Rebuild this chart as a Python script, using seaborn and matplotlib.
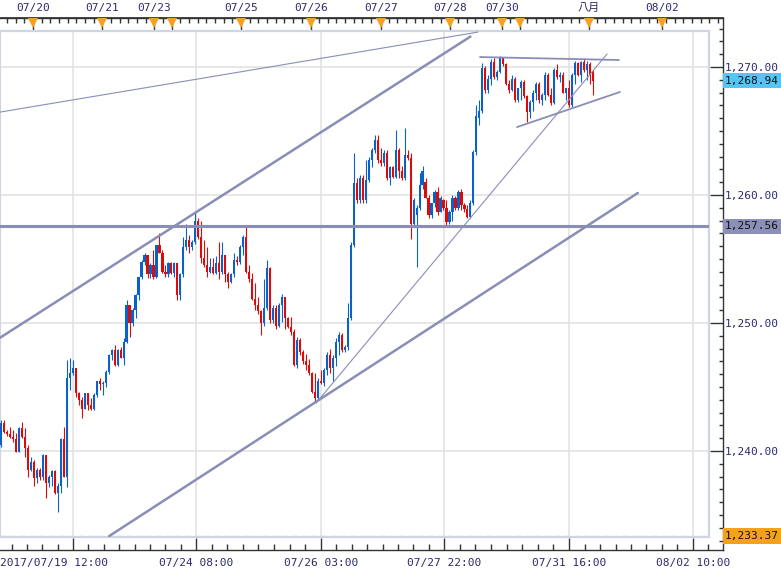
import matplotlib
matplotlib.use("Agg")
import numpy as np
import pandas as pd
import matplotlib.pyplot as plt
import matplotlib.transforms as mtransforms
from matplotlib.patches import Rectangle
from matplotlib.ticker import FixedLocator, MultipleLocator, FuncFormatter, NullFormatter
import seaborn as sns

# ---------------- data (hourly OHLC, gold) ----------------
opens = [1240.5,1242.2,1241.5,1241.3,1241.1,1240.9,1239.9,1241.8,1241.1,1240.2,
         1238.5,1239.1,1237.9,1238.5,1238.0,1239.7,1237.5,1238.0,1238.4,1236.7,
         1237.3,1240.9,1238.0,1245.7,1246.1,1246.5,1244.5,1244.0,1243.3,1244.5,
         1243.6,1243.3,1244.4,1245.5,1245.2,1245.3,1246.2,1247.5,1247.9,1246.7,
         1247.9,1247.3,1248.5,1251.4,1250.0,1251.0,1252.2,1253.6,1254.8,1255.3,
         1253.8,1254.5,1253.6,1256.1,1255.5,1254.0,1253.8,1254.7,1253.9,1254.7,
         1252.2,1253.8,1255.9,1256.5,1255.9,1256.3,1258.0,1256.7,1255.1,1254.5,
         1254.0,1254.4,1253.9,1254.7,1254.0,1255.3,1253.8,1253.2,1253.8,1254.9,
         1254.8,1255.9,1256.7,1254.0,1253.4,1251.9,1251.4,1250.9,1250.0,1251.2,
         1254.3,1250.2,1251.2,1249.8,1251.4,1252.0,1250.4,1249.7,1249.3,1246.7,
         1248.7,1247.7,1247.0,1246.7,1246.1,1244.6,1244.1,1245.5,1245.3,1246.3,
         1247.5,1246.5,1247.3,1248.5,1249.1,1247.9,1248.1,1250.4,1256.1,1260.9,
         1259.6,1261.3,1259.6,1261.2,1262.7,1263.5,1264.3,1262.7,1262.5,1263.3,
         1261.3,1262.2,1261.4,1263.5,1261.9,1261.3,1263.1,1262.9,1257.7,1258.4,
         1259.0,1260.8,1261.0,1259.8,1258.4,1259.4,1260.2,1258.7,1259.6,1259.0,
         1257.9,1258.7,1259.8,1259.0,1260.2,1259.2,1258.9,1258.3,1259.4,1263.4,
         1266.0,1266.6,1269.9,1268.2,1269.1,1270.4,1269.2,1269.6,1270.7,1270.2,
         1268.7,1268.2,1269.1,1267.4,1268.4,1268.8,1267.7,1266.5,1267.3,1268.0,
         1268.7,1267.4,1267.8,1269.4,1267.8,1267.2,1269.8,1269.2,1269.4,1268.0,
         1268.4,1267.0,1269.4,1270.3,1269.4,1270.4,1269.8,1270.2,1269.6]
closes = [1242.2,1241.5,1241.3,1241.1,1240.9,1239.9,1241.8,1241.1,1240.2,1238.5,
          1239.1,1237.9,1238.5,1238.0,1239.7,1237.5,1238.0,1238.4,1236.7,1237.3,
          1240.9,1238.0,1245.7,1246.1,1246.5,1244.5,1244.0,1243.3,1244.5,1243.6,
          1243.3,1244.4,1245.5,1245.2,1245.3,1246.2,1247.5,1247.9,1246.7,1247.9,
          1247.3,1248.5,1251.4,1250.0,1251.0,1252.2,1253.6,1254.8,1255.3,1253.8,
          1254.5,1253.6,1256.1,1255.5,1254.0,1253.8,1254.7,1253.9,1254.7,1252.2,
          1253.8,1255.9,1256.5,1255.9,1256.3,1258.0,1256.7,1255.1,1254.5,1254.0,
          1254.4,1253.9,1254.7,1254.0,1255.3,1253.8,1253.2,1253.8,1254.9,1254.8,
          1255.9,1256.7,1254.0,1253.4,1251.9,1251.4,1250.9,1250.0,1251.2,1254.3,
          1250.2,1251.2,1249.8,1251.4,1252.0,1250.4,1249.7,1249.3,1246.7,1248.7,
          1247.7,1247.0,1246.7,1246.1,1244.6,1244.1,1245.5,1245.3,1246.3,1247.5,
          1246.5,1247.3,1248.5,1249.1,1247.9,1248.1,1250.4,1256.1,1260.9,1259.6,
          1261.3,1259.6,1261.2,1262.7,1263.5,1264.3,1262.7,1262.5,1263.3,1261.3,
          1262.2,1261.4,1263.5,1261.9,1261.3,1263.1,1262.9,1257.7,1259.6,1259.0,
          1260.8,1261.9,1259.8,1258.4,1259.4,1260.2,1258.7,1259.8,1259.0,1257.9,
          1258.7,1259.8,1259.0,1260.2,1259.2,1258.9,1258.3,1259.4,1263.4,1266.2,
          1266.6,1269.9,1268.2,1269.1,1270.4,1269.2,1269.6,1270.7,1270.2,1268.7,
          1268.2,1269.1,1267.4,1268.4,1268.8,1267.7,1266.5,1267.3,1268.0,1268.7,
          1267.4,1267.8,1269.4,1267.8,1267.2,1269.8,1269.2,1269.4,1268.0,1268.4,
          1267.0,1269.4,1270.3,1269.4,1270.4,1269.8,1270.2,1269.4,1268.94]
highs = [1242.4,1242.4,1241.6,1241.9,1241.6,1241.4,1241.9,1242.3,1241.8,1240.5,
         1239.5,1239.3,1238.7,1238.7,1239.8,1239.7,1238.1,1238.5,1238.5,1237.5,
         1241.0,1241.9,1247.1,1247.3,1247.1,1246.5,1244.6,1244.2,1244.5,1244.5,
         1244.1,1244.5,1245.5,1245.7,1245.5,1246.3,1247.6,1248.0,1248.3,1248.0,
         1248.1,1248.8,1251.8,1251.4,1251.2,1252.3,1253.6,1254.9,1255.5,1255.3,
         1254.7,1255.7,1256.1,1257.0,1255.7,1254.5,1254.8,1254.8,1254.8,1254.7,
         1253.9,1256.7,1257.7,1256.9,1256.5,1258.6,1258.2,1258.0,1256.5,1255.9,
         1255.1,1255.1,1255.2,1256.3,1256.3,1255.3,1254.0,1253.9,1255.5,1255.2,
         1256.1,1256.9,1257.5,1254.5,1253.9,1253.1,1252.0,1251.0,1253.4,1254.9,
         1254.4,1251.4,1251.4,1251.6,1252.3,1252.0,1250.5,1250.5,1249.5,1248.9,
         1248.8,1247.9,1247.6,1247.2,1246.2,1246.1,1245.7,1246.3,1246.5,1247.7,
         1248.0,1247.5,1248.8,1249.3,1249.2,1248.3,1251.6,1256.3,1263.3,1261.3,
         1261.6,1261.6,1262.7,1263.0,1263.7,1264.7,1264.7,1263.7,1263.5,1263.5,
         1262.3,1262.3,1265.1,1263.7,1262.3,1265.2,1263.5,1263.3,1259.8,1259.2,
         1261.7,1262.3,1261.3,1260.0,1259.4,1260.4,1260.6,1259.9,1259.7,1259.6,
         1258.8,1260.0,1259.9,1260.4,1260.5,1259.4,1259.2,1259.6,1263.5,1267.0,
         1267.4,1270.3,1270.1,1269.4,1270.6,1270.7,1269.8,1270.9,1270.8,1270.3,
         1269.0,1269.4,1269.2,1268.4,1269.0,1269.0,1267.8,1267.4,1268.2,1268.8,
         1268.8,1268.0,1269.6,1269.5,1268.4,1269.9,1270.2,1269.6,1269.6,1268.4,
         1269.0,1269.5,1270.5,1270.4,1270.5,1270.7,1270.5,1270.4,1269.8]
lows = [1240.3,1241.4,1241.2,1241.0,1240.7,1239.9,1239.9,1241.0,1239.5,1238.0,
        1238.4,1237.3,1237.5,1237.7,1237.7,1236.3,1237.2,1237.3,1236.6,1235.2,
        1236.7,1238.0,1237.2,1244.8,1245.9,1244.2,1243.6,1242.6,1243.3,1243.2,
        1243.2,1243.2,1244.2,1244.8,1244.4,1245.0,1246.0,1247.1,1246.6,1246.6,
        1247.3,1246.7,1248.4,1248.9,1249.8,1250.4,1251.8,1253.4,1254.5,1253.5,
        1253.5,1253.4,1253.5,1255.5,1253.9,1253.6,1253.6,1253.8,1253.6,1251.8,
        1251.8,1253.6,1255.7,1255.5,1255.7,1256.2,1256.6,1254.7,1254.4,1253.6,
        1253.9,1253.8,1253.8,1253.4,1253.8,1253.2,1252.7,1253.1,1253.6,1254.5,
        1254.6,1255.3,1253.9,1253.2,1251.8,1251.0,1250.7,1249.1,1249.8,1251.0,
        1250.0,1250.0,1249.5,1249.7,1250.1,1249.5,1249.6,1249.1,1246.6,1246.5,
        1247.5,1246.8,1246.3,1245.9,1244.5,1243.8,1244.0,1245.2,1245.1,1245.9,
        1246.1,1245.5,1246.6,1247.5,1247.7,1247.7,1247.9,1250.2,1255.9,1259.4,
        1259.4,1259.4,1259.4,1261.0,1262.2,1263.3,1262.5,1262.3,1262.3,1261.2,
        1260.8,1261.3,1261.3,1261.3,1261.2,1261.2,1262.7,1256.6,1257.5,1254.4,
        1258.8,1260.5,1259.8,1258.2,1258.2,1259.1,1258.4,1258.7,1258.8,1257.5,
        1257.7,1258.0,1258.8,1258.8,1258.8,1258.7,1258.2,1258.2,1259.2,1263.1,
        1265.5,1266.4,1268.0,1268.0,1268.6,1269.1,1269.0,1269.5,1270.1,1268.6,
        1268.0,1268.1,1267.3,1267.3,1267.4,1267.6,1265.7,1266.0,1266.6,1267.4,
        1267.2,1267.0,1267.4,1267.7,1267.0,1267.1,1269.1,1268.8,1268.0,1267.4,
        1266.9,1266.9,1268.7,1269.3,1268.8,1269.6,1269.0,1268.7,1267.8]

price_ticks = [1240, 1250, 1260, 1270]
last_price = 1268.94
hline_price = 1257.56
low_price = 1233.37

bottom_labels = ["2017/07/19 12:00", "07/24 08:00", "07/26 03:00",
                 "07/27 22:00", "07/31 16:00", "08/02 10:00"]
top_labels = ["07/20", "07/21", "07/23", "", "07/25", "07/26", "07/27",
              "07/28", "07/30", "", "八月", "08/02"]

# drawn trend lines: (bar index, price) end points
upper_channel_x = [-0.3, 157.0];  upper_channel_y = [1248.85, 1272.38]
lower_channel_x = [36.2, 213.0];  lower_channel_y = [1233.35, 1260.16]
thin_top_x = [-0.3, 159.5];       thin_top_y = [1266.48, 1272.73]
thin_trend_x = [105.4, 202.7];    thin_trend_y = [1243.75, 1271.02]
resist_x = [160.2, 206.7];        resist_y = [1270.78, 1270.55]
support_x = [172.6, 207.0];       support_y = [1265.31, 1268.05]

# ---------------- layout (bar positions of axis marks) ----------------
bottom_major_pos = [24.1, 65.2, 107.0, 148.2, 190.0, 231.4]
top_day_pos = [10.7, 33.8, 51.2, 57.2, 80.3, 103.7, 127.1, 150.2, 167.6, 173.6, 196.7, 221.1]

sns.set_theme(style="white")
plt.rcParams['font.family'] = ['DejaVu Sans Mono', 'Noto Sans CJK JP']
TXT = '#2A2A6E'
LINE = '#8A8EB6'
FS = 8.0

W, H = 781, 576
def rect(l, t, r, b):
    return [l / W, 1 - b / H, (r - l) / W, (b - t) / H]

fig = plt.figure(figsize=(W / 100, H / 100), dpi=100)
fig.patch.set_facecolor('white')

# outer frame with axes ticks
ax2 = fig.add_axes(rect(0, 18, 723, 550))
ax2.patch.set_alpha(0)
ax2.set_xlim(-0.334, 241.47)
ax2.set_ylim(1232.27, 1273.83)
for s in ['top', 'right', 'bottom']:
    ax2.spines[s].set_color('#333333'); ax2.spines[s].set_linewidth(1.0)
ax2.spines['left'].set_visible(False)
ax2.yaxis.tick_right()
ax2.yaxis.set_major_locator(FixedLocator(price_ticks))
ax2.yaxis.set_minor_locator(MultipleLocator(1))
ax2.yaxis.set_major_formatter(FuncFormatter(lambda v, p: f"{v:,.2f}"))
ax2.tick_params(axis='y', which='major', direction='in', length=9.5, width=1,
                color='#333333', labelsize=FS, labelcolor=TXT, pad=1.5,
                right=True, left=False, labelright=True, labelleft=False)
ax2.tick_params(axis='y', which='minor', direction='in', length=3, width=1,
                color='#333333', right=True, left=False)
minor_bottom = []
for a, b in zip(bottom_major_pos[:-1], bottom_major_pos[1:]):
    minor_bottom += list(np.linspace(a, b, 9)[1:-1])
step = (bottom_major_pos[1] - bottom_major_pos[0]) / 8
minor_bottom += [bottom_major_pos[0] - step * i for i in range(1, 5)]
minor_bottom += [bottom_major_pos[-1] + step * i for i in range(1, 3)]
ax2.xaxis.set_major_locator(FixedLocator(bottom_major_pos))
ax2.xaxis.set_minor_locator(FixedLocator(minor_bottom))
ax2.xaxis.set_major_formatter(NullFormatter())
ax2.tick_params(axis='x', which='major', direction='in', length=8.6, width=1,
                color='#333333', bottom=True, top=False)
ax2.tick_params(axis='x', which='minor', direction='in', length=4.3, width=1,
                color='#333333', bottom=True, top=False)
tx = ax2.get_xaxis_transform()
for i, (p, lab) in enumerate(zip(bottom_major_pos, bottom_labels)):
    if i == 0:
        ax2.text(0.0, -0.0244, lab, transform=ax2.transAxes, ha='left', va='center',
                 fontsize=FS, color=TXT)
    else:
        ax2.text(p, -0.0244, lab, transform=tx, ha='center', va='center',
                 fontsize=FS, color=TXT, clip_on=False)

# top axis
ax3 = ax2.twiny()
ax3.set_xlim(ax2.get_xlim())
for s in ['left', 'right', 'bottom']:
    ax3.spines[s].set_visible(False)
ax3.spines['top'].set_color('#333333')
top_minor = list(np.arange(top_day_pos[0] - 2.9 * 3, 241, 2.9))
ax3.xaxis.set_major_locator(FixedLocator(top_day_pos))
ax3.xaxis.set_minor_locator(FixedLocator(top_minor))
ax3.xaxis.set_major_formatter(NullFormatter())
ax3.tick_params(axis='x', which='major', direction='in', length=8.6, width=1, color='#333333')
ax3.tick_params(axis='x', which='minor', direction='in', length=3.6, width=1, color='#333333')
ax3.tick_params(axis='y', which='both', left=False, right=False,
                labelleft=False, labelright=False)
tx3 = ax3.get_xaxis_transform()
ax3.plot(top_day_pos, [0.9915] * len(top_day_pos), transform=tx3, linestyle='none',
         marker='v', markersize=7, color='#F5A21A', markeredgewidth=0, clip_on=False, zorder=5)
for p, lab in zip(top_day_pos, top_labels):
    if lab:
        ax3.text(p, 1.0188, lab, transform=tx3, ha='center', va='center',
                 fontsize=FS, color=TXT, clip_on=False)

# inner chart panel
ax = fig.add_axes(rect(0, 30.7, 709, 536.7))
ax.set_xlim(-0.334, 236.8)
ax.set_ylim(1233.30, 1272.84)
ax.set_xticks([]); ax.set_yticks([])
for s in ax.spines.values():
    s.set_color('#CDD5E1'); s.set_linewidth(1.6)
for v in price_ticks:
    ax.axhline(v, color='#E3E3E3', lw=1.2, zorder=1)
for p in bottom_major_pos:
    ax.axvline(p, color='#E3E3E3', lw=1.2, zorder=1)
ax.axhline(low_price, color='#D5D5D5', lw=1.0, ls=(0, (4, 3)), zorder=1)

df = pd.DataFrame({'o': opens, 'h': highs, 'l': lows, 'c': closes})
df['x'] = np.arange(len(df))
up = df['c'] >= df['o']
cols = np.where(up, '#0A62C8', '#DD0A0A')
ax.vlines(df['x'], df['l'], df['h'], colors=cols, lw=0.8, zorder=3)
body_low = np.minimum(df['o'], df['c'])
body_h = np.maximum(np.abs(df['c'] - df['o']), 0.06)
ax.bar(df['x'], body_h, bottom=body_low, width=0.72, color=cols, linewidth=0,
       zorder=4, antialiased=False)

ax.axhline(hline_price, color=LINE, lw=2.2, zorder=5)
for xs, ys, lw in [(upper_channel_x, upper_channel_y, 1.8),
                   (lower_channel_x, lower_channel_y, 1.8),
                   (thin_top_x, thin_top_y, 0.8),
                   (thin_trend_x, thin_trend_y, 0.8),
                   (resist_x, resist_y, 1.3),
                   (support_x, support_y, 1.3)]:
    sns.lineplot(x=xs, y=ys, ax=ax, color=LINE, linewidth=lw, zorder=5, legend=False)
ax.set_xlabel(''); ax.set_ylabel('')
ax.set_xlim(-0.334, 236.8)
ax.set_ylim(1233.30, 1272.84)

# price boxes on the right scale
ty = mtransforms.blended_transform_factory(ax2.transAxes, ax2.transData)
for val, fc in [(last_price, '#55C6F4'), (hline_price, '#8C90B8'), (low_price, '#F5A21A')]:
    ax2.add_patch(Rectangle((1.0, val - 0.6), 0.09, 1.2, transform=ty, facecolor=fc,
                            edgecolor='none', clip_on=False, zorder=6))
    ax2.text(1.0 + 2 / 723, val, f"{val:,.2f}", transform=ty, ha='left', va='center',
             fontsize=FS, color='#111111', clip_on=False, zorder=7)

fig.savefig('out.png', dpi=100, facecolor='white')
